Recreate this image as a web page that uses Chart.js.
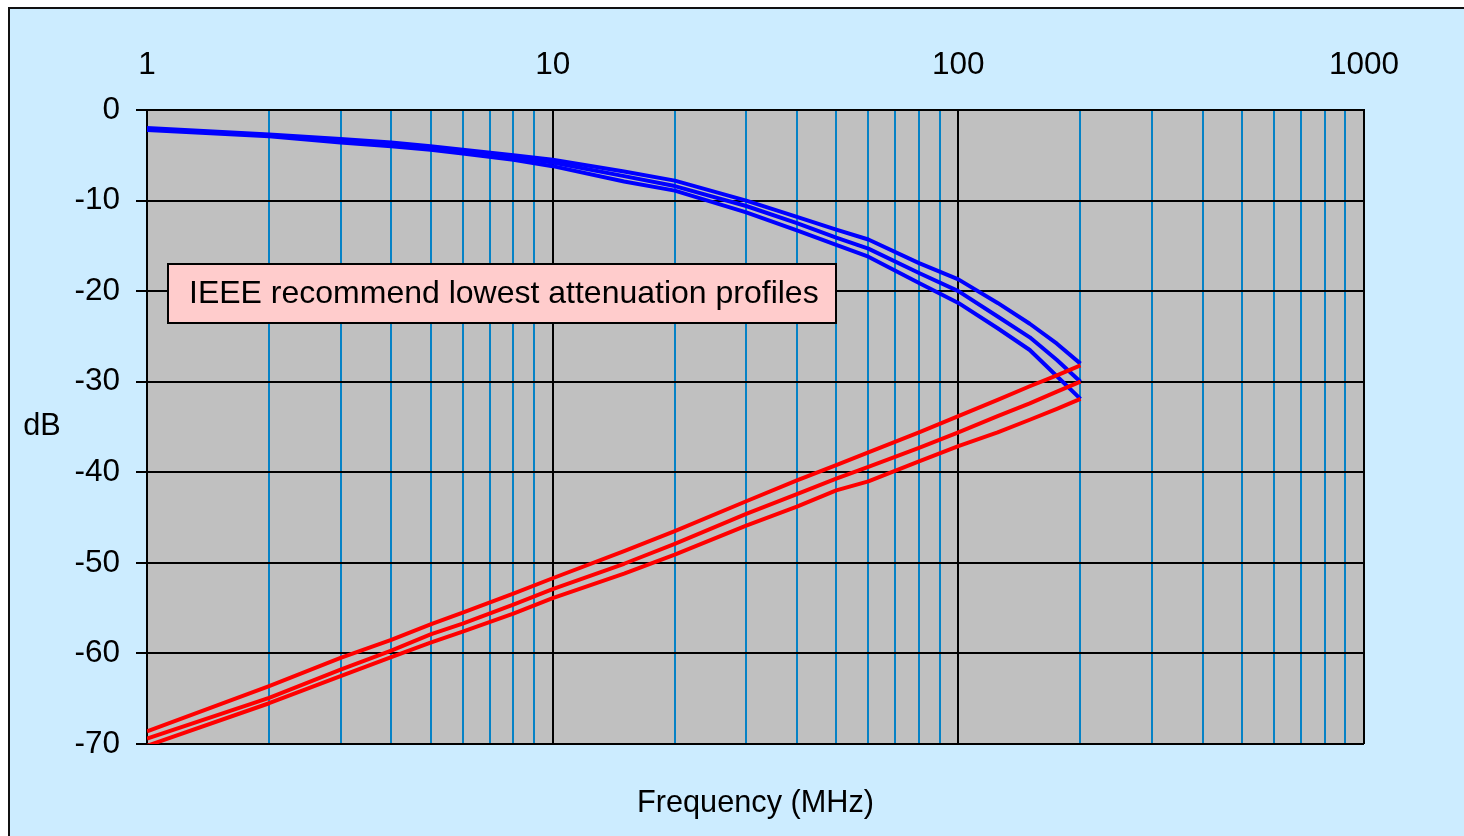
<!DOCTYPE html>
<html>
<head>
<meta charset="utf-8">
<title>Attenuation profiles</title>
<script src="https://cdn.jsdelivr.net/npm/chart.js@4.4.1/dist/chart.umd.min.js"></script>
<style>
  html, body { margin: 0; padding: 0; background: #ffffff; }
  canvas { display: block; }
</style>
</head>
<body>
<canvas id="chart" width="1464" height="836"></canvas>
<script>
// Frequency points (MHz) shared by every curve
const frequencies = [1, 2, 3, 4, 5, 6, 8, 10, 15, 20, 30, 40, 50, 60, 80, 100, 125, 150, 175, 200];

// Attenuation curves (dB), blue family
const blueUpper  = [-2.0, -2.7, -3.2, -3.6, -4.0, -4.4, -5.0, -5.5, -6.8, -7.8, -10.0, -11.8, -13.2, -14.3, -16.9, -18.7, -21.3, -23.6, -25.8, -28.0];
const blueMiddle = [-2.1, -2.8, -3.4, -3.8, -4.2, -4.6, -5.2, -5.8, -7.3, -8.4, -10.6, -12.5, -14.1, -15.3, -18.0, -20.0, -22.8, -25.1, -27.6, -30.0];
const blueLower  = [-2.2, -2.9, -3.6, -4.0, -4.4, -4.8, -5.5, -6.2, -7.9, -8.9, -11.3, -13.3, -14.9, -16.2, -19.1, -21.3, -24.1, -26.5, -29.4, -31.9];

// Crosstalk curves (dB), red family
const redUpper  = [-68.6, -63.6, -60.5, -58.5, -56.8, -55.5, -53.4, -51.7, -48.7, -46.5, -43.2, -40.9, -39.2, -37.8, -35.6, -33.8, -32.0, -30.5, -29.3, -28.2];
const redMiddle = [-69.4, -64.9, -61.8, -59.7, -57.9, -56.7, -54.6, -52.9, -50.1, -47.9, -44.6, -42.4, -40.7, -39.4, -37.3, -35.6, -33.8, -32.4, -31.1, -30.0];
const redLower  = [-70.2, -65.5, -62.5, -60.4, -58.8, -57.6, -55.6, -53.9, -51.2, -49.1, -45.9, -43.8, -42.0, -41.0, -38.8, -37.1, -35.6, -34.2, -33.0, -31.9];

// Axis ticks
const decadeLabels = [1, 10, 100, 1000];
const minorSteps = [1, 2, 3, 4, 5, 6, 7, 8, 9];
const yTickValues = [0, -10, -20, -30, -40, -50, -60, -70];

const noteText = 'IEEE recommend lowest attenuation profiles';
const xTitle = 'Frequency (MHz)';
const yTitle = 'dB';

const FONT = '"Liberation Sans", Arial, Helvetica, sans-serif';
const TICK_SIZE = 31.5;
const NOTE_SIZE = 32;
const TITLE_SIZE = 30.7;

// log grid positions: 1..9 in each decade up to 1000
const xGridValues = [];
for (let d = 0; d < decadeLabels.length - 1; d++) {
  minorSteps.forEach(m => xGridValues.push(m * decadeLabels[d]));
}
xGridValues.push(decadeLabels[decadeLabels.length - 1]);

const pairs = vals => frequencies.map((f, i) => ({ x: f, y: vals[i] }));

const lineStyle = color => ({
  borderColor: color,
  backgroundColor: color,
  borderWidth: 4,
  pointRadius: 0,
  tension: 0,
  fill: false,
  borderJoinStyle: 'round',
  borderCapStyle: 'butt'
});

const framePlugin = {
  id: 'frame',
  beforeDraw(chart) {
    const { ctx, chartArea: a, width, height } = chart;
    ctx.save();
    ctx.fillStyle = '#ffffff';
    ctx.fillRect(0, 0, width, height);
    ctx.fillStyle = '#CCECFF';
    ctx.fillRect(9, 8, width, height);
    ctx.strokeStyle = '#111111';
    ctx.lineWidth = 2;
    ctx.strokeRect(9, 8, width + 20, height + 20);
    ctx.fillStyle = '#C0C0C0';
    ctx.fillRect(a.left, a.top, a.right - a.left, a.bottom - a.top);
    ctx.restore();
  },
  afterDatasetsDraw(chart) {
    const { ctx, chartArea: a } = chart;
    ctx.save();
    // note box
    const bx = a.left + 21, by = a.top + 154, bw = 668, bh = 59;
    ctx.fillStyle = '#FFCCCC';
    ctx.fillRect(bx, by, bw, bh);
    ctx.strokeStyle = '#000000';
    ctx.lineWidth = 2;
    ctx.strokeRect(bx, by, bw, bh);
    ctx.fillStyle = '#000000';
    ctx.font = NOTE_SIZE + 'px ' + FONT;
    ctx.textBaseline = 'middle';
    ctx.textAlign = 'left';
    ctx.fillText(noteText, bx + 21, by + bh / 2 + 1);
    // axis titles
    ctx.font = TITLE_SIZE + 'px ' + FONT;
    ctx.textAlign = 'center';
    ctx.fillText(yTitle, 42, (a.top + a.bottom) / 2);
    ctx.fillText(xTitle, (a.left + a.right) / 2, a.bottom + 60);
    ctx.restore();
  }
};

new Chart(document.getElementById('chart'), {
  type: 'line',
  data: {
    datasets: [
      { label: 'Crosstalk upper', data: pairs(redUpper), ...lineStyle('#FF0000') },
      { label: 'Crosstalk middle', data: pairs(redMiddle), ...lineStyle('#FF0000') },
      { label: 'Crosstalk lower', data: pairs(redLower), ...lineStyle('#FF0000') },
      { label: 'Attenuation upper', data: pairs(blueUpper), ...lineStyle('#0000FF') },
      { label: 'Attenuation middle', data: pairs(blueMiddle), ...lineStyle('#0000FF') },
      { label: 'Attenuation lower', data: pairs(blueLower), ...lineStyle('#0000FF') }
    ]
  },
  options: {
    responsive: false,
    animation: false,
    devicePixelRatio: 1,
    layout: { padding: { left: 0, top: 0, right: 100, bottom: 92 } },
    plugins: {
      legend: { display: false },
      tooltip: { enabled: false }
    },
    scales: {
      x: {
        type: 'logarithmic',
        position: 'top',
        min: 1,
        max: 1000,
        afterBuildTicks: s => { s.ticks = xGridValues.map(v => ({ value: v })); },
        afterFit: s => { s.height = 110; },
        ticks: {
          autoSkip: false,
          maxRotation: 0,
          padding: 26,
          color: '#000000',
          font: { family: FONT, size: TICK_SIZE },
          callback: v => decadeLabels.includes(v) ? String(v) : ''
        },
        grid: {
          drawTicks: false,
          color: c => decadeLabels.includes(c.tick && c.tick.value) ? '#000000' : '#0582C6',
          lineWidth: 2
        },
        border: { display: true, color: '#000000', width: 2 }
      },
      y: {
        type: 'linear',
        min: -70,
        max: 0,
        afterBuildTicks: s => { s.ticks = yTickValues.map(v => ({ value: v })); },
        afterFit: s => { s.width = 147; },
        ticks: {
          padding: 16,
          color: '#000000',
          font: { family: FONT, size: TICK_SIZE }
        },
        grid: {
          drawTicks: true,
          tickLength: 11,
          color: '#000000',
          lineWidth: 2
        },
        border: { display: true, color: '#000000', width: 2 }
      }
    }
  },
  plugins: [framePlugin]
});
</script>
</body>
</html>
